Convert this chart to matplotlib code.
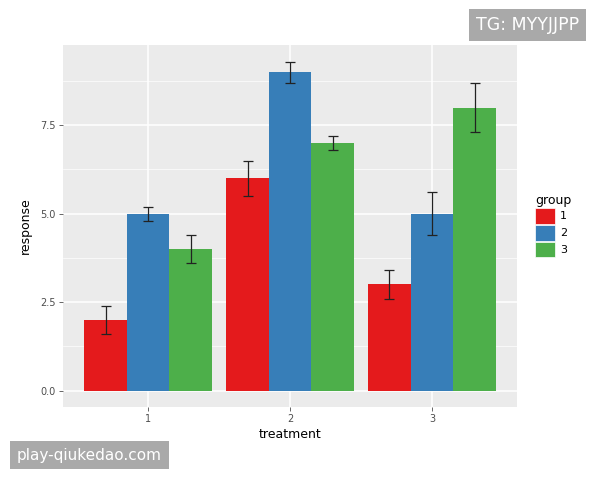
import matplotlib.pyplot as plt
import matplotlib.patches as mpatches
import numpy as np

treatments = ["1", "2", "3"]
groups = ["1", "2", "3"]
# response[group][treatment]
response = [
    [2, 6, 3],
    [5, 9, 5],
    [4, 7, 8],
]
se = [
    [0.4, 0.5, 0.4],
    [0.2, 0.3, 0.6],
    [0.4, 0.2, 0.7],
]
colors = ["#E41A1C", "#377EB8", "#4DAF4A"]

fig = plt.figure(figsize=(6, 4.8), dpi=100)
ax = fig.add_axes([0.105, 0.152, 0.757, 0.754])
ax.set_facecolor("#EBEBEB")

x = np.arange(1, len(treatments) + 1)
bar_w = 0.3
for i, g in enumerate(groups):
    pos = x + (i - 1) * bar_w
    ax.bar(pos, response[i], width=bar_w, color=colors[i], zorder=2)
    ax.errorbar(pos, response[i], yerr=se[i], fmt="none", ecolor="#222222",
                elinewidth=0.9, capsize=3.5, capthick=0.9, zorder=3)

ax.set_xlim(0.4, 3.6)
ax.set_ylim(-0.465, 9.765)
ax.set_xticks(x)
ax.set_xticklabels(treatments)
ax.set_yticks([0, 2.5, 5.0, 7.5])
ax.set_yticklabels(["0.0", "2.5", "5.0", "7.5"])
ax.set_yticks([1.25, 3.75, 6.25, 8.75], minor=True)

ax.grid(True, which="major", color="white", linewidth=1.1, zorder=0)
ax.grid(True, which="minor", axis="y", color="white", linewidth=0.5, zorder=0)
ax.set_axisbelow(True)
for s in ax.spines.values():
    s.set_visible(False)
ax.tick_params(axis="both", which="major", colors="#4D4D4D", labelsize=7,
               length=3, width=0.6, pad=2)
ax.tick_params(axis="both", which="minor", length=0)

ax.set_xlabel("treatment", fontsize=9, labelpad=3)
ax.set_ylabel("response", fontsize=9, labelpad=6)

handles = [mpatches.Patch(facecolor=c, edgecolor="white", linewidth=0.5) for c in colors]
leg = fig.legend(handles, groups, title="group", loc="center left",
                 bbox_to_anchor=(0.885, 0.53), frameon=False, fontsize=8,
                 title_fontsize=9, handlelength=1.8, handleheight=1.8,
                 labelspacing=0.1, handletextpad=0.4, borderaxespad=0,
                 alignment="left")

# watermarks
fig.text(0.965, 0.948, "TG: MYYJJPP", ha="right", va="center", color="white",
         fontsize=12.5, bbox=dict(facecolor="#A9A9A9", edgecolor="none", pad=5))
fig.text(0.028, 0.052, "play-qiukedao.com", ha="left", va="center", color="white",
         fontsize=11, bbox=dict(facecolor="#A9A9A9", edgecolor="none", pad=5))

plt.savefig("out.png", dpi=100)
plt.close()
